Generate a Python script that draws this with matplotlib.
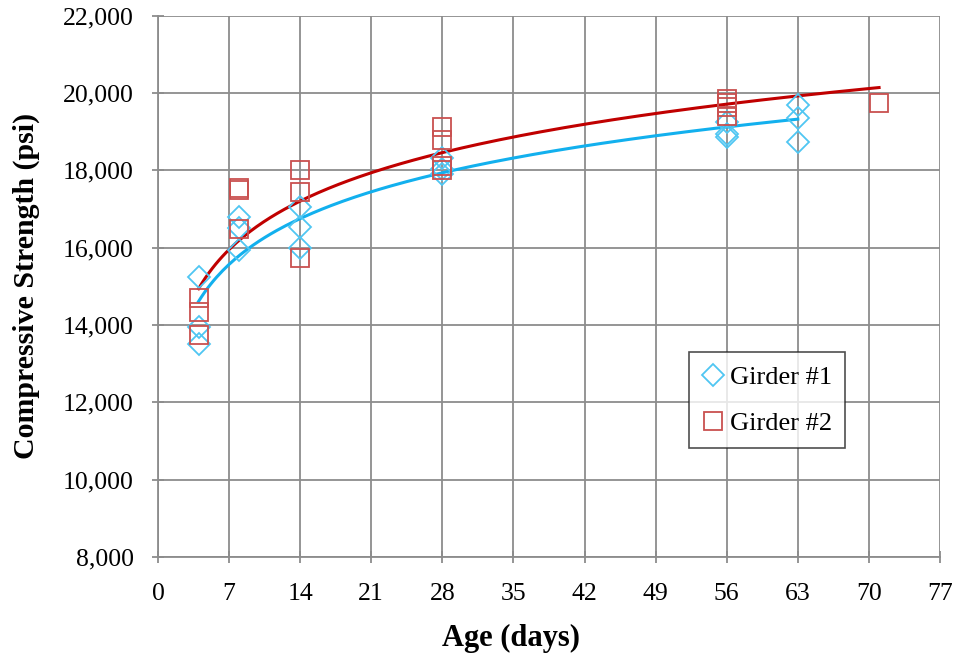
import numpy as np
import matplotlib
matplotlib.use('Agg')
import matplotlib.pyplot as plt
from matplotlib.ticker import FuncFormatter

# cylinder test results, age in days vs compressive strength in psi
g1_age = [4, 4, 4, 8, 8, 8, 14, 14, 14, 28, 28, 28, 56, 56, 56, 63, 63, 63]
g1_psi = [15250, 13950, 13500, 16780, 16500, 15950, 17050, 16530, 15980,
          18330, 18030, 17900, 19250, 18950, 18870, 19700, 19350, 18740]

g2_age = [4, 4, 4, 8, 8, 8, 14, 14, 14, 28, 28, 28, 28, 56, 56, 56, 56, 71]
g2_psi = [14700, 14330, 13750, 17550, 17500, 16480, 18020, 17430, 15730,
          19110, 18780, 18100, 18000, 19840, 19730, 19630, 19410, 19730]

x_ticks = [0, 7, 14, 21, 28, 35, 42, 49, 56, 63, 70, 77]
y_ticks = [8000, 10000, 12000, 14000, 16000, 18000, 20000, 22000]

BLUE_PT = '#4FC6F2'
RED_PT = '#C9504F'
BLUE_LN = '#12B0EE'
RED_LN = '#C00000'

plt.rcParams['font.family'] = ['Liberation Serif', 'DejaVu Serif']

fig = plt.figure(figsize=(9.55, 6.61), dpi=100)
ax = fig.add_axes([0.1654, 0.1576, 0.8189, 0.8186])

# logarithmic trendlines, y = a*ln(x) + b
def log_fit(age, psi):
    a, b = np.polyfit(np.log(age), psi, 1)
    xs = np.linspace(min(age), max(age), 200)
    return xs, a * np.log(xs) + b

xs, ys = log_fit(g1_age, g1_psi)
ax.plot(xs, ys, color=BLUE_LN, lw=2.2, zorder=3)
xs, ys = log_fit(g2_age, g2_psi)
ax.plot(xs, ys, color=RED_LN, lw=2.2, zorder=3)

ax.plot(g1_age, g1_psi, 'D', ms=11.5, mfc='none', mec=BLUE_PT, mew=1.3,
        label='Girder #1', zorder=4)
ax.plot(g2_age, g2_psi, 's', ms=12.5, mfc='none', mec=RED_PT, mew=1.3,
        label='Girder #2', zorder=4)

ax.set_xlim(0, 77)
ax.set_ylim(8000, 22000)
ax.set_xticks(x_ticks)
ax.set_yticks(y_ticks)
ax.yaxis.set_major_formatter(FuncFormatter(lambda v, p: f'{int(v):,}'))
ax.grid(True, color='#8C8C8C', lw=1.3)
ax.set_axisbelow(True)
for s in ['top', 'right']:
    ax.spines[s].set_visible(False)
for s in ['left', 'bottom']:
    ax.spines[s].set_color('#8C8C8C')
    ax.spines[s].set_linewidth(1.3)
ax.tick_params(direction='inout', length=9, width=1.3, color='#8C8C8C',
               labelsize=18.5)
ax.tick_params(axis='y', pad=13)
ax.tick_params(axis='x', pad=14)

ax.set_xlabel('Age (days)', fontsize=22, fontweight='bold')
ax.xaxis.set_label_coords(0.452, -0.124)
ax.set_ylabel('Compressive Strength (psi)', fontsize=21.5, fontweight='bold')
ax.yaxis.set_label_coords(-0.151, 0.5)

leg = ax.legend(loc='upper left', bbox_to_anchor=(0.679, 0.378),
                fontsize=19, frameon=True, fancybox=False, edgecolor='#222222',
                handlelength=0.8, handletextpad=0.25, borderpad=0.5,
                labelspacing=0.85, borderaxespad=0)
leg.get_frame().set_linewidth(1.2)

fig.savefig('out.png', dpi=100)
